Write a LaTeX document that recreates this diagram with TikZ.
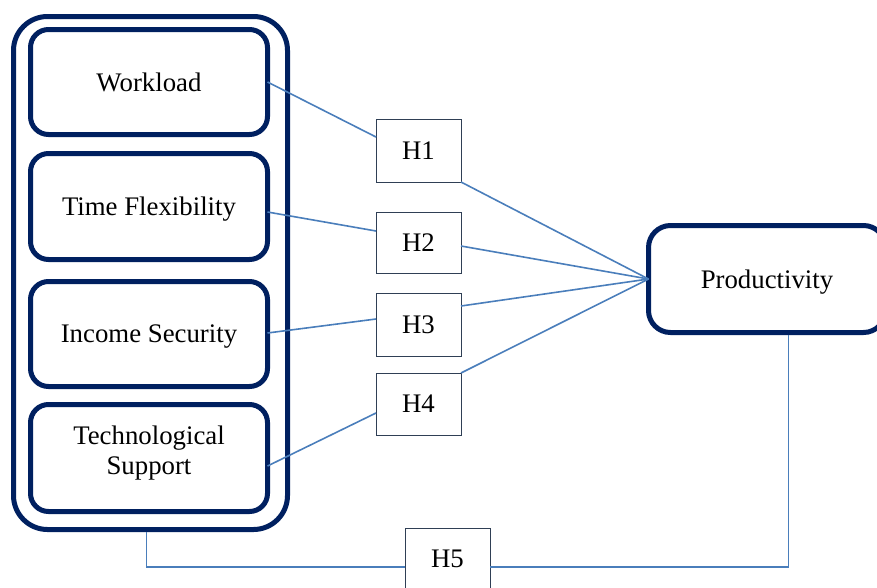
\documentclass[tikz,border=0pt]{standalone}
\usepackage{fontspec}
\setmainfont{Liberation Serif}
\usetikzlibrary{calc}
\definecolor{navy}{HTML}{002060}
\definecolor{conn}{HTML}{4A7EBB}
\definecolor{hbord}{HTML}{2F3F55}
\begin{document}
\begin{tikzpicture}[x=1pt,y=-1pt,
  every node/.style={outer sep=0pt, inner sep=0pt},
  bigbox/.style={draw=navy, line width=5pt, rounded corners=34pt, fill=white},
  varbox/.style={draw=navy, line width=5pt, rounded corners=18pt, fill=white, minimum width=237pt, align=center, text depth=0pt, font=\fontsize{26.8pt}{30pt}\selectfont},
  hbox/.style={draw=hbord, line width=1pt, fill=white, minimum width=85pt, text depth=0pt, font=\fontsize{26.8pt}{30pt}\selectfont},
  link/.style={draw=conn, line width=1.6pt}]
\useasboundingbox (0,0) rectangle (877,587);
\clip (0,0) rectangle (877,587);
% outer group
\node[bigbox, minimum width=274pt, minimum height=513pt] (outer) at (150.5,273) {};
% variables
\node[varbox, minimum height=105pt] (work) at (149,82) {Workload};
\node[varbox, minimum height=106pt] (time) at (149,206.5) {Time Flexibility};
\node[varbox, minimum height=105pt] (inc) at (149,334) {Income Security};
\node[varbox, minimum height=107pt] (tech) at (149,458) {};
\node[align=center, font=\fontsize{26.8pt}{30pt}\selectfont] (techtxt) at (149,453) {Technological\\Support};
% outcome
\node[varbox, minimum height=107pt, rounded corners=22pt] (prod) at (767,279) {Productivity};
% hypotheses
\node[hbox, minimum height=63pt] (h1) at (418.5,150.5) {H1};
\node[hbox, minimum height=61pt] (h2) at (418.5,242.5) {H2};
\node[hbox, minimum height=63pt] (h3) at (418.5,324.5) {H3};
\node[hbox, minimum height=62pt] (h4) at (418.5,404) {H4};
\node[hbox, minimum height=62pt] (h5) at (447.5,559) {H5};
% connectors
\draw[link] (work.east) -- ([yshift=13.5pt]h1.west);
\draw[link] (h1.south east) -- (prod.west);
\draw[link] ([yshift=-5.5pt]time.east) -- ([yshift=11.5pt]h2.west);
\draw[link] ([yshift=-3.5pt]h2.east) -- (prod.west);
\draw[link] ([yshift=1pt]inc.east) -- ([yshift=5.5pt]h3.west);
\draw[link] ([yshift=18.5pt]h3.east) -- (prod.west);
\draw[link] ([yshift=-8pt]tech.east) -- ([yshift=-9pt]h4.west);
\draw[link] (h4.north east) -- (prod.west);
\draw[link] ([xshift=-4pt,yshift=-2.5pt]outer.south) |- ([yshift=-8pt]h5.west);
\draw[link] ([yshift=-8pt]h5.east) -| ([xshift=21.5pt,yshift=-2.5pt]prod.south);
\end{tikzpicture}
\end{document}
